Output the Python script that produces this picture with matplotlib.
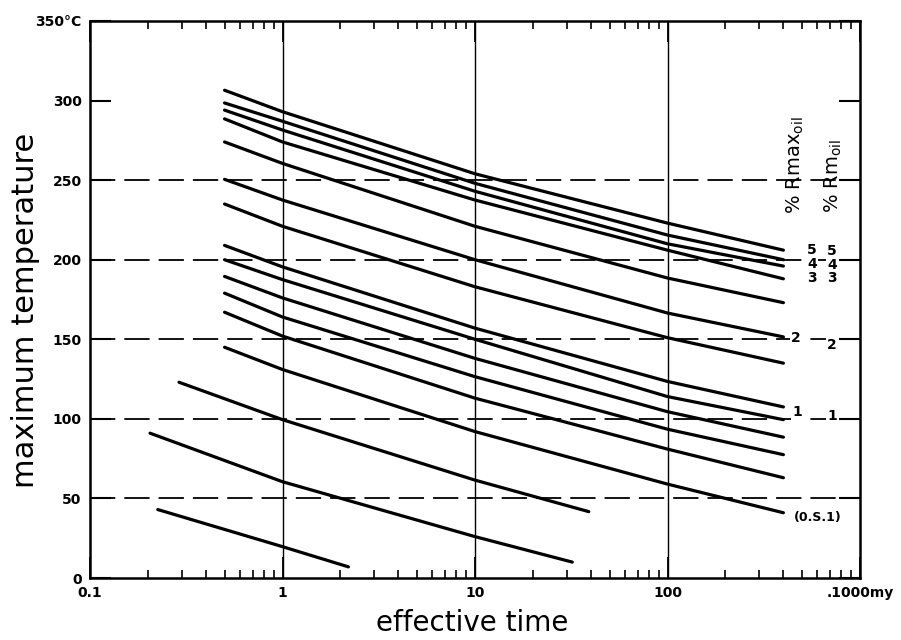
import matplotlib
matplotlib.use("Agg")
import matplotlib.pyplot as plt
from matplotlib.ticker import FixedLocator, NullFormatter, LogLocator

# values
x_main = [0.5, 1, 10, 100, 400]
curves_main = [
    [306.5, 293, 254, 223, 206],
    [298.5, 287, 248, 215.5, 200],
    [294, 281.5, 243, 210, 196],
    [288.5, 274, 237.5, 206, 188],
    [274, 260.5, 221, 188.5, 173],
    [250.5, 237.5, 200, 166.5, 151.5],
    [235, 221, 183, 151, 135],
    [209, 195.5, 157, 123.5, 107.5],
    [200, 187.5, 150, 114, 99.5],
    [189.5, 176, 138, 104.5, 88.5],
    [179, 164, 126.5, 93.5, 77.5],
    [167, 152, 113, 81, 63],
    [145, 131, 92, 59, 41],
]
x_short_a = [0.29, 1, 10, 39]
y_short_a = [123, 99.5, 61.5, 41.7]
x_short_b = [0.205, 1, 10, 32]
y_short_b = [91, 60.5, 26, 10]
x_short_c = [0.225, 1, 2.2]
y_short_c = [43, 19.7, 7]

x_ticks = [0.1, 1, 10, 100, 1000]
x_ticklabels = ["0.1", "1", "10", "100", ".1000my"]
y_ticks = [0, 50, 100, 150, 200, 250, 300, 350]
y_ticklabels = ["0", "50", "100", "150", "200", "250", "300", "350°C"]
h_lines = [50, 100, 150, 200, 250]
v_lines = [1, 10, 100]

plt.rcParams['mathtext.default'] = 'regular'

fig = plt.figure(figsize=(9.01, 6.4), dpi=100)
ax = fig.add_axes([90/901, 62/640, 770/901, 557/640])

for xv in v_lines:
    ax.axvline(xv, color='black', lw=1.0, zorder=1)
for yv in h_lines:
    ax.axhline(yv, color='black', lw=1.3, dashes=(14, 5), zorder=1)

kw = dict(color='black', lw=2.3, solid_capstyle='round', solid_joinstyle='round', zorder=3)
for ys in curves_main:
    ax.plot(x_main, ys, **kw)
ax.plot(x_short_a, y_short_a, **kw)
ax.plot(x_short_b, y_short_b, **kw)
ax.plot(x_short_c, y_short_c, **kw)

ax.set_xscale('log')
ax.set_xlim(0.1, 1000)
ax.set_ylim(0, 350)

ax.xaxis.set_major_locator(FixedLocator(x_ticks))
ax.set_xticklabels(x_ticklabels)
ax.xaxis.set_minor_locator(LogLocator(base=10, subs=range(2, 10)))
ax.xaxis.set_minor_formatter(NullFormatter())
ax.set_yticks(y_ticks)
ax.set_yticklabels(y_ticklabels)

ax.tick_params(axis='x', which='major', direction='in', length=15, width=1.3,
               top=True, pad=6)
ax.tick_params(axis='x', which='minor', direction='in', length=6, width=1.2, top=True)
ax.tick_params(axis='y', which='major', direction='in', length=15, width=1.5,
               right=True, pad=6)
for lab in ax.get_xticklabels() + ax.get_yticklabels():
    lab.set_fontweight('bold')
    lab.set_fontsize(10)

for sp in ax.spines.values():
    sp.set_linewidth(1.8)

ax.set_xlabel('effective time', fontsize=20)
ax.xaxis.set_label_coords(0.496, -0.055)
ax.set_ylabel('maximum temperature', fontsize=22)
ax.yaxis.set_label_coords(-0.065, 0.48)

# right-hand curve labels (axes fractions)
def px(xp, yp):
    return (xp - 90) / 770, (578 - yp) / 557

box = dict(facecolor='white', edgecolor='none', pad=1)
lab1 = [("5", 812, 250), ("4", 812, 264), ("3", 812, 278), ("2", 796, 338), ("1", 797, 412)]
lab2 = [("5", 832, 251), ("4", 832, 265), ("3", 832, 278), ("2", 832, 345), ("1", 832, 416)]
for t, xp, yp in lab1 + lab2:
    fx, fy = px(xp, yp)
    ax.text(fx, fy, t, transform=ax.transAxes, ha='center', va='center',
            fontsize=10, fontweight='bold', bbox=box, zorder=4)
fx, fy = px(818, 518)
ax.text(fx, fy, "(0.S.1)", transform=ax.transAxes, ha='center', va='center',
        fontsize=9, fontweight='bold', zorder=4)

fx, fy = px(795, 165)
ax.text(fx, fy, r"% Rmax$_{oil}$", transform=ax.transAxes, rotation=90,
        ha='center', va='center', fontsize=14)
fx, fy = px(833, 176)
ax.text(fx, fy, r"% Rm$_{oil}$", transform=ax.transAxes, rotation=90,
        ha='center', va='center', fontsize=14)

fig.savefig('out.png', dpi=100)
